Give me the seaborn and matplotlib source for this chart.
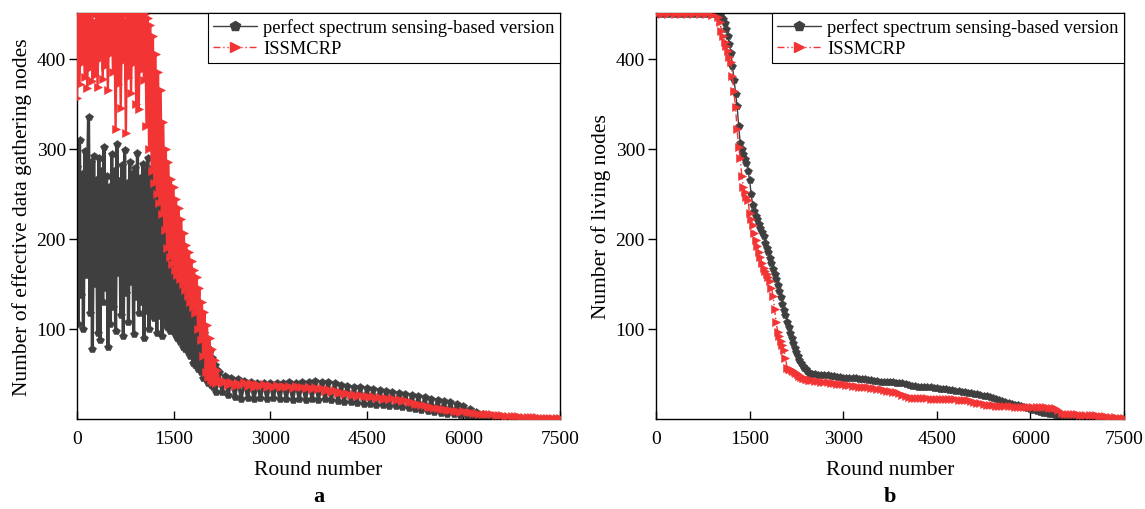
import numpy as np
import pandas as pd
import matplotlib
matplotlib.use("Agg")
import matplotlib.pyplot as plt
from matplotlib.lines import Line2D
import seaborn as sns

sns.set_theme(style="ticks")
plt.rcParams['font.family'] = ['Liberation Serif', 'DejaVu Serif']
plt.rcParams['text.color'] = 'black'
plt.rcParams['axes.labelcolor'] = 'black'
plt.rcParams['xtick.color'] = 'black'
plt.rcParams['ytick.color'] = 'black'

# ---- panel a: effective data gathering nodes ----
rounds_a = np.concatenate([np.arange(0, 2200, 20), np.arange(2200, 7501, 50)])

perfect_a = [
    280, 105, 310, 138, 272, 100, 298, 160, 255, 336,   # 0
    118, 285, 78, 292, 150, 266, 96, 290, 88, 275,      # 200
    130, 302, 145, 270, 80, 258, 106, 294, 124, 276,    # 400
    98, 306, 162, 264, 116, 282, 92, 299, 140, 262,     # 600
    108, 286, 152, 272, 94, 279, 136, 296, 118, 268,    # 800
    130, 283, 90, 276, 120, 290, 100, 272, 116, 280,    # 1000
    112, 268, 96, 260, 114, 252, 92, 240, 108, 225,     # 1200
    102, 210, 98, 205, 100, 198, 94, 190, 90, 185,      # 1400
    85, 160, 80, 156, 78, 150, 74, 144, 70, 138,        # 1600
    62, 120, 60, 115, 56, 108, 52, 102, 46, 96,         # 1800
    44, 80, 40, 75, 38, 68, 35, 60, 30, 54,             # 2000
    52, 30, 48, 27, 46, 24, 44, 22, 42, 23,             # 2200 (step 50)
    41, 22, 40, 23, 40, 22, 40, 23, 40, 22,             # 2700
    40, 22, 41, 21, 40, 22, 41, 21, 41, 22,             # 3200
    42, 21, 41, 22, 41, 21, 40, 20, 38, 19,             # 3700
    37, 19, 36, 18, 35, 17, 34, 17, 33, 16,             # 4200
    32, 15, 31, 14, 30, 14, 29, 13, 28, 12,             # 4700
    27, 11, 25, 10, 24, 9, 22, 8, 21, 7,                # 5200
    20, 6, 19, 5, 17, 4, 14, 3, 11, 2,                  # 5700
    8, 1, 5, 0, 3, 0, 1, 0, 0, 0,                       # 6200
    0, 0, 0, 0, 0, 0, 0, 0, 0, 0,                       # 6700
    0, 0, 0, 0, 0, 0, 0,                                # 7200
]

issmcrp_a = [
    357, 450, 372, 448, 395, 450, 380, 446, 368, 450,   # 0
    390, 450, 375, 442, 382, 450, 369, 450, 400, 447,   # 200
    378, 450, 392, 450, 365, 448, 405, 450, 385, 450,   # 400
    322, 446, 372, 450, 345, 450, 398, 443, 318, 450,   # 600
    380, 450, 362, 447, 395, 450, 350, 450, 344, 448,   # 800
    388, 450, 376, 450, 325, 445, 300, 438, 275, 425,   # 1000
    262, 405, 250, 385, 240, 365, 228, 330, 210, 300,   # 1200
    190, 285, 180, 267, 172, 258, 166, 244, 160, 234,   # 1400
    155, 222, 150, 207, 143, 193, 137, 185, 130, 175,   # 1600
    124, 165, 118, 158, 100, 145, 88, 130, 70, 119,     # 1800
    52, 104, 47, 90, 43, 78, 41, 65, 40, 54,            # 2000
    44, 40, 42, 38, 41, 37, 40, 38, 41, 37,             # 2200 (step 50)
    40, 36, 39, 37, 39, 36, 38, 35, 38, 36,             # 2700
    37, 35, 37, 34, 37, 35, 36, 34, 36, 33,             # 3200
    35, 33, 34, 31, 33, 30, 32, 29, 30, 28,             # 3700
    29, 27, 28, 26, 27, 25, 26, 24, 25, 23,             # 4200
    24, 22, 23, 22, 23, 21, 22, 20, 21, 19,             # 4700
    19, 17, 17, 15, 15, 13, 13, 12, 12, 11,             # 5200
    11, 10, 10, 9, 9, 8, 9, 8, 8, 7,                    # 5700
    7, 6, 6, 5, 5, 5, 4, 4, 4, 3,                       # 6200
    3, 3, 3, 3, 2, 2, 2, 2, 2, 2,                       # 6700
    1, 1, 1, 1, 1, 1, 1,                                # 7200
]

# ---- panel b: living nodes ----
rounds_b = np.concatenate([np.arange(0, 1000, 100), np.arange(1000, 2500, 25),
                           np.arange(2500, 7501, 50)])

perfect_b = [
    450, 450, 450, 450, 450, 450, 450, 450, 450, 450,   # 0 (step 100)
    450, 449, 447, 444, 440, 433, 425, 416, 407, 392,   # 1000 (step 25)
    376, 361, 348, 326, 307, 300, 294, 289, 284, 276,   # 1250
    266, 250, 238, 231, 226, 222, 217, 212, 208, 203,   # 1500
    196, 190, 185, 179, 173, 167, 161, 155, 149, 142,   # 1750
    135, 128, 121, 115, 108, 102, 96, 90, 84, 79,       # 2000
    74, 70, 66, 62, 59, 57, 55, 53, 51, 50,             # 2250
    50, 50, 49, 49, 49, 49, 48, 48, 47, 47,             # 2500 (step 50)
    46, 46, 45, 45, 45, 44, 44, 44, 43, 43,             # 3000
    42, 42, 41, 41, 41, 41, 41, 40, 40, 40,             # 3500
    39, 38, 37, 37, 36, 36, 35, 35, 35, 34,             # 4000
    34, 33, 33, 33, 32, 32, 31, 31, 30, 30,             # 4500
    29, 29, 28, 28, 27, 26, 25, 24, 23, 22,             # 5000
    21, 20, 19, 18, 17, 16, 15, 14, 13, 12,             # 5500
    11, 10, 9, 8, 7, 7, 6, 5, 4, 3,                     # 6000
    2, 1, 0, 0, 0, 0, 0, 0, 0, 0,                       # 6500
    0, 0, 0, 0, 0, 0, 0, 0, 0, 0,                       # 7000
    0,                                                  # 7500
]

issmcrp_b = [
    450, 450, 450, 450, 450, 450, 450, 450, 450, 449,   # 0 (step 100)
    447, 441, 431, 425, 419, 414, 409, 402, 396, 381,   # 1000 (step 25)
    364, 346, 322, 302, 290, 270, 258, 252, 247, 243,   # 1250
    229, 222, 215, 207, 199, 192, 186, 180, 173, 168,   # 1500
    164, 161, 158, 153, 146, 137, 122, 108, 97, 92,     # 1750
    87, 82, 77, 68, 57, 56, 55, 54, 53, 52,             # 2000
    51, 50, 48, 47, 46, 45, 44, 44, 43, 43,             # 2250
    43, 42, 42, 41, 41, 41, 40, 40, 39, 39,             # 2500 (step 50)
    39, 38, 38, 37, 37, 36, 36, 35, 35, 34,             # 3000
    34, 33, 33, 32, 31, 31, 30, 30, 29, 27,             # 3500
    25, 24, 23, 23, 23, 23, 23, 23, 22, 22,             # 4000
    22, 22, 22, 22, 22, 22, 22, 21, 21, 21,             # 4500
    21, 20, 19, 18, 18, 17, 16, 15, 15, 14,             # 5000
    14, 14, 14, 14, 14, 13, 13, 13, 13, 13,             # 5500
    13, 13, 13, 13, 13, 13, 12, 12, 12, 10,             # 6000
    7, 5, 5, 5, 5, 5, 4, 4, 4, 4,                       # 6500
    4, 4, 3, 3, 3, 2, 2, 2, 1, 1,                       # 7000
    1,                                                  # 7500
]

labels = ['perfect spectrum sensing-based version', 'ISSMCRP']
gray = '#3f3f3f'
red = '#f23434'
dashdotdot = (0, (5, 2, 1, 2, 1, 2))

fig = plt.figure(figsize=(11.45, 5.10), dpi=100)
ax_a = fig.add_axes([0.0672, 0.1765, 0.4218, 0.7961])
ax_b = fig.add_axes([0.5729, 0.1765, 0.4087, 0.7961])


def draw(ax, x, y_perf, y_issm, ylabel, tag, lw_gray, lw_red, red_ls):
    df = pd.DataFrame({'round': x, 'perfect': y_perf, 'issm': y_issm})
    sns.lineplot(data=df, x='round', y='perfect', ax=ax, color=gray, linewidth=lw_gray,
                 marker='p', markersize=5.5, markeredgecolor=gray, markeredgewidth=0.4,
                 estimator=None, sort=False, zorder=2, legend=False)
    sns.lineplot(data=df, x='round', y='issm', ax=ax, color=red, linewidth=lw_red,
                 linestyle=red_ls,
                 marker='>', markersize=5.5, markeredgecolor=red, markeredgewidth=0.4,
                 estimator=None, sort=False, zorder=3, legend=False)
    ax.set_xlim(0, 7500)
    ax.set_ylim(0, 451)
    ax.set_xticks([0, 1500, 3000, 4500, 6000, 7500])
    ax.set_yticks([100, 200, 300, 400])
    ax.tick_params(axis='x', direction='in', length=6, width=1, labelsize=14, pad=8)
    ax.tick_params(axis='y', direction='out', length=6, width=1, labelsize=14, pad=2)
    for s in ax.spines.values():
        s.set_visible(True)
        s.set_color('black')
        s.set_linewidth(1)
    ax.set_xlabel('Round number', fontsize=15.5, labelpad=9)
    ax.set_ylabel(ylabel, fontsize=15.5, labelpad=3)
    handles = [
        Line2D([], [], color=gray, linewidth=1, marker='p', markersize=7,
               markeredgecolor=gray),
        Line2D([], [], color=red, linewidth=1, linestyle=dashdotdot, marker='>',
               markersize=7, markeredgecolor=red),
    ]
    leg = ax.legend(handles, labels, loc='upper right', fontsize=13.3, frameon=True,
                    fancybox=False, edgecolor='black', framealpha=1, borderaxespad=0,
                    handlelength=2.4, handletextpad=0.3, labelspacing=0.2,
                    borderpad=0.3)
    leg.get_frame().set_linewidth(0.8)
    ax.text(0.5, -0.19, tag, transform=ax.transAxes, ha='center', va='center',
            fontsize=16, fontweight='bold')


draw(ax_a, rounds_a, perfect_a, issmcrp_a, 'Number of effective data gathering nodes',
     'a', 2.3, 1.7, '-')
draw(ax_b, rounds_b, perfect_b, issmcrp_b, 'Number of living nodes', 'b', 1, 1, dashdotdot)

fig.savefig('out.png', dpi=100)
